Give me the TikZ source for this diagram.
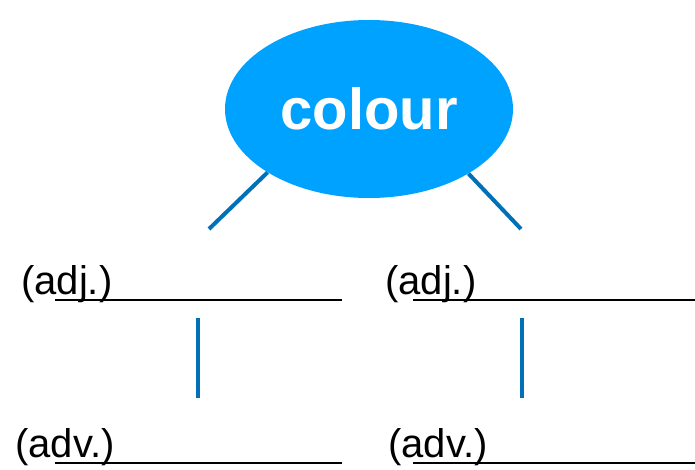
\documentclass[tikz,border=0pt]{standalone}
\usepackage{fontspec}
\setmainfont{Liberation Sans}
\usetikzlibrary{shapes.geometric}
\definecolor{bubble}{RGB}{0,162,255}
\definecolor{stem}{RGB}{0,112,184}

\begin{document}
\begin{tikzpicture}[x=1pt, y=-1pt,
  stemline/.style={stem, line width=4pt},
  blank/.style={black, line width=2.8pt},
  word/.style={anchor=base west, inner sep=0pt, font=\fontsize{40}{44}\selectfont}]
\useasboundingbox (0,0) rectangle (695,470);
\node[ellipse, fill=bubble, minimum width=288pt, minimum height=178pt, inner sep=0pt,
  text=white, font=\fontsize{58}{60}\selectfont\bfseries] (colour) at (369,109) {colour};
% left branch
\node[word] (adjl) at (21,294) {(adj.)};
\node[word] (advl) at (15,457) {(adv.)};
\coordinate (adjlb) at (55,300); \coordinate (adjle) at (342,300);
\coordinate (advlb) at (55,463); \coordinate (advle) at (342,463);
\coordinate (tipl) at (209,229);
\coordinate (upl) at (198,318); \coordinate (dnl) at (198,398);
% right branch
\node[word] (adjr) at (385,294) {(adj.)};
\node[word] (advr) at (388,457) {(adv.)};
\coordinate (adjrb) at (413,300); \coordinate (adjre) at (695,300);
\coordinate (advrb) at (413,463); \coordinate (advre) at (695,463);
\coordinate (tipr) at (521,229);
\coordinate (upr) at (522,318); \coordinate (dnr) at (522,398);
\draw[blank] (adjlb)--(adjle);
\draw[blank] (advlb)--(advle);
\draw[blank] (adjrb)--(adjre);
\draw[blank] (advrb)--(advre);
\draw[stemline] (colour.212)--(tipl);
\draw[stemline] (colour.327)--(tipr);
\draw[stemline] (upl)--(dnl);
\draw[stemline] (upr)--(dnr);
\end{tikzpicture}
\end{document}
